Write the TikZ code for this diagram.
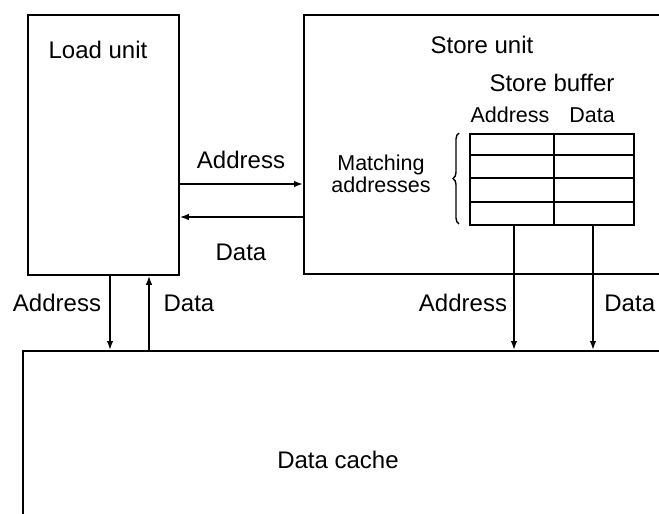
\documentclass[tikz,border=0pt]{standalone}
\usepackage{fontspec}
\setmainfont{Liberation Sans}
\usetikzlibrary{arrows.meta,decorations.pathreplacing}
\begin{document}
\begin{tikzpicture}[x=1pt,y=-1pt,line width=1.8pt,
  lbl/.style={font=\fontsize{24}{26}\selectfont,inner sep=0pt},
  slbl/.style={font=\fontsize{21.5}{22}\selectfont,inner sep=0pt,align=center},
  box/.style={draw,inner sep=0pt,anchor=north west},
  arr/.style={-{Latex[length=9pt,width=6.5pt]},line width=1.6pt},
  brace/.style={decorate,decoration={brace,amplitude=6pt},line width=1.4pt}]
\useasboundingbox (0,0) rectangle (659,514);
% boxes
\node[box,minimum width=151pt,minimum height=260pt] (load) at (27,14) {};
\node[box,minimum width=420pt,minimum height=259pt] (store) at (303,14) {};
\node[box,minimum width=700pt,minimum height=250pt] (cache) at (22,350) {};
\node[box,minimum width=164pt,minimum height=91pt] (buf) at (469,133) {};
% buffer grid
\coordinate (c1) at (554,0);
\coordinate (r1) at (0,155);
\coordinate (r2) at (0,178);
\coordinate (r3) at (0,202);
\draw (buf.north -| c1) -- (buf.south -| c1);
\draw (buf.west |- r1) -- (buf.east |- r1);
\draw (buf.west |- r2) -- (buf.east |- r2);
\draw (buf.west |- r3) -- (buf.east |- r3);
% brace
\coordinate (bb) at (459,224);
\coordinate (bt) at (459,133);
\draw[brace] (bb) -- (bt);
% texts
\node[lbl] (tload) at (98,50) {Load unit};
\node[lbl] (tstore) at (482,45) {Store unit};
\node[lbl] (tbuf) at (552,83) {Store buffer};
\node[slbl] (thaddr) at (510,115) {Address};
\node[slbl] (thdata) at (592,115) {Data};
\node[slbl] (tmatch) at (381,174) {Matching\\addresses};
\node[lbl] (tmaddr) at (241,160) {Address};
\node[lbl] (tmdata) at (241,252) {Data};
\node[lbl] (tladdr) at (57,303) {Address};
\node[lbl] (tldata) at (189,303) {Data};
\node[lbl] (traddr) at (463,303) {Address};
\node[lbl,anchor=east] (trdata) at (656,303) {Data};
\node[lbl] (tcache) at (338,460) {Data cache};
% horizontal arrows
\coordinate (ya) at (0,184);
\coordinate (yd) at (0,217);
\draw[arr] (load.east |- ya) -- (store.west |- ya);
\draw[arr] (store.west |- yd) -- (load.east |- yd);
% vertical arrows
\coordinate (xla) at (110,0);
\coordinate (xld) at (149,0);
\coordinate (xra) at (514,0);
\coordinate (xrd) at (593,0);
\draw[arr] (load.south -| xla) -- (cache.north -| xla);
\draw[arr] (cache.north -| xld) -- (load.south -| xld);
\draw[arr] (buf.south -| xra) -- (cache.north -| xra);
\draw[arr] (buf.south -| xrd) -- (cache.north -| xrd);
\end{tikzpicture}
\end{document}
